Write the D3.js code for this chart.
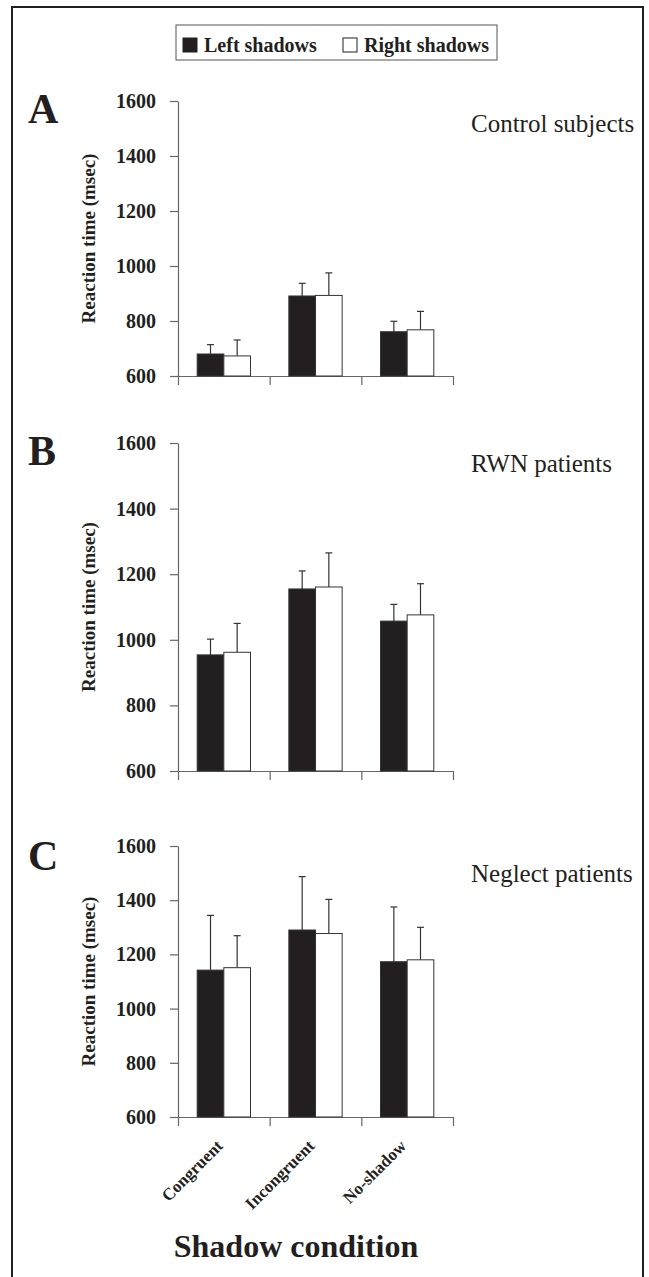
<!DOCTYPE html>
<html>
<head>
<meta charset="utf-8">
<script src="https://cdn.jsdelivr.net/npm/d3@7/dist/d3.min.js"></script>
<style>
  html, body { margin: 0; padding: 0; background: #fff; }
  svg { display: block; font-family: "Liberation Serif", "DejaVu Serif", serif; }
</style>
</head>
<body>
<div id="chart"></div>
<script>
// data (msec)
const conditions = ["Congruent", "Incongruent", "No-shadow"];
const seriesNames = ["Left shadows", "Right shadows"];
const panelLetters = ["A", "B", "C"];
const panelTitles = ["Control subjects", "RWN patients", "Neglect patients"];
const yTicks = [600, 800, 1000, 1200, 1400, 1600];

// means per panel: [condition][left, right]
const controlMeans = [[680, 673], [891, 893], [761, 768]];
const controlErr   = [[34, 58], [46, 82], [38, 67]];
const rwnMeans     = [[954, 962], [1155, 1161], [1057, 1076]];
const rwnErr       = [[48, 88], [55, 104], [51, 95]];
const neglectMeans = [[1142, 1151], [1290, 1277], [1173, 1180]];
const neglectErr   = [[202, 118], [197, 126], [202, 120]];

const W = 649, H = 1277;
const ink = "#231f20";
const seriesFill = ["#231f20", "#ffffff"];

const svg = d3.select("#chart").append("svg")
  .attr("width", W)
  .attr("height", H)
  .attr("viewBox", `0 0 ${W} ${H}`);

// outer frame (bottom edge runs off the picture)
svg.append("rect")
  .attr("x", 12).attr("y", 7)
  .attr("width", 631).attr("height", H + 20)
  .attr("fill", "none").attr("stroke", ink).attr("stroke-width", 2);

// legend
const legend = svg.append("g");
legend.append("rect")
  .attr("x", 176).attr("y", 25).attr("width", 321).attr("height", 35)
  .attr("fill", "#fff").attr("stroke", "#555").attr("stroke-width", 1);
const legendX = [183, 343];
seriesNames.forEach((name, i) => {
  legend.append("rect")
    .attr("x", legendX[i]).attr("y", 38).attr("width", 14).attr("height", 14)
    .attr("fill", seriesFill[i]).attr("stroke", ink).attr("stroke-width", 1);
  legend.append("text")
    .attr("x", legendX[i] + 21).attr("y", 52)
    .attr("font-size", 20).attr("font-weight", "bold").attr("fill", ink)
    .text(name);
});

// panel layout: y pixel of 600 and 1600, label baselines
const layout = [
  { means: controlMeans, err: controlErr, y0: 376, y1: 101, letterY: 123, titleY: 132 },
  { means: rwnMeans,     err: rwnErr,     y0: 771, y1: 443, letterY: 465, titleY: 472 },
  { means: neglectMeans, err: neglectErr, y0: 1117, y1: 846, letterY: 870, titleY: 882 }
];

const xLeft = 178, xRight = 453;

const x = d3.scaleBand().domain(conditions).range([xLeft, xRight]).paddingInner(0).paddingOuter(0);
const xSeries = d3.scaleBand().domain(seriesNames).range([0, x.bandwidth()]).paddingInner(0).paddingOuter(0.72);
const xEdges = d3.scaleLinear().domain([0, conditions.length]).range([xLeft, xRight]);

layout.forEach((p, pi) => {
  const y = d3.scaleLinear().domain([600, 1600]).range([p.y0, p.y1]);
  const g = svg.append("g");

  // y axis
  const yAxis = g.append("g")
    .attr("transform", `translate(${xLeft},0)`)
    .call(d3.axisLeft(y).tickValues(yTicks).tickSize(8).tickPadding(14).tickSizeOuter(0).tickFormat(d3.format("d")));
  yAxis.select(".domain").attr("stroke", "#666").attr("stroke-width", 1.2);
  yAxis.selectAll(".tick line").attr("stroke", "#666").attr("stroke-width", 1.2);
  yAxis.selectAll(".tick text")
    .attr("font-family", "Liberation Serif, serif")
    .attr("font-size", 20).attr("font-weight", "bold").attr("fill", ink);

  // x axis with ticks at category edges
  const xAxis = g.append("g")
    .attr("transform", `translate(0,${p.y0})`)
    .call(d3.axisBottom(xEdges).tickValues([0, 1, 2, 3]).tickSize(9).tickSizeOuter(0).tickFormat(""));
  xAxis.select(".domain").attr("stroke", "#666").attr("stroke-width", 1.2);
  xAxis.selectAll(".tick line").attr("stroke", "#666").attr("stroke-width", 1.2);

  // y axis title
  g.append("text")
    .attr("transform", `translate(95,${(p.y0 + p.y1) / 2}) rotate(-90)`)
    .attr("text-anchor", "middle")
    .attr("font-size", 19).attr("font-weight", "bold").attr("fill", ink)
    .text("Reaction time (msec)");

  // panel letter and title
  g.append("text")
    .attr("x", 28).attr("y", p.letterY)
    .attr("font-size", 42).attr("font-weight", "bold").attr("fill", ink)
    .text(panelLetters[pi]);
  g.append("text")
    .attr("x", 471).attr("y", p.titleY)
    .attr("font-size", 25).attr("fill", ink)
    .text(panelTitles[pi]);

  // bars
  const rows = [];
  conditions.forEach((c, ci) => {
    seriesNames.forEach((s, si) => {
      rows.push({ cond: c, series: s, si, mean: p.means[ci][si], se: p.err[ci][si] });
    });
  });

  const bars = g.append("g").selectAll("g").data(rows).join("g");

  // error bars drawn first so the bar outline sits on top
  bars.append("line")
    .attr("x1", d => x(d.cond) + xSeries(d.series) + xSeries.bandwidth() / 2)
    .attr("x2", d => x(d.cond) + xSeries(d.series) + xSeries.bandwidth() / 2)
    .attr("y1", d => y(d.mean))
    .attr("y2", d => y(d.mean + d.se))
    .attr("stroke", "#333").attr("stroke-width", 1.2);
  bars.append("line")
    .attr("x1", d => x(d.cond) + xSeries(d.series) + xSeries.bandwidth() / 2 - 3.5)
    .attr("x2", d => x(d.cond) + xSeries(d.series) + xSeries.bandwidth() / 2 + 3.5)
    .attr("y1", d => y(d.mean + d.se))
    .attr("y2", d => y(d.mean + d.se))
    .attr("stroke", "#333").attr("stroke-width", 1.2);

  bars.append("rect")
    .attr("x", d => x(d.cond) + xSeries(d.series))
    .attr("y", d => y(d.mean))
    .attr("width", xSeries.bandwidth())
    .attr("height", d => y(600) - y(d.mean))
    .attr("fill", d => seriesFill[d.si])
    .attr("stroke", "#333").attr("stroke-width", 1);

  // category labels only under the last panel
  if (pi === layout.length - 1) {
    g.append("g").selectAll("text").data(conditions).join("text")
      .attr("transform", d => `translate(${x(d) + x.bandwidth() / 2},${p.y0 + 30}) rotate(-45)`)
      .attr("text-anchor", "end")
      .attr("font-size", 17).attr("font-weight", "bold").attr("fill", ink)
      .text(d => d);
  }
});

// x axis title
svg.append("text")
  .attr("x", (172 + 420) / 2).attr("y", 1257)
  .attr("text-anchor", "middle")
  .attr("font-size", 32).attr("font-weight", "bold").attr("fill", ink)
  .text("Shadow condition");
</script>
</body>
</html>
